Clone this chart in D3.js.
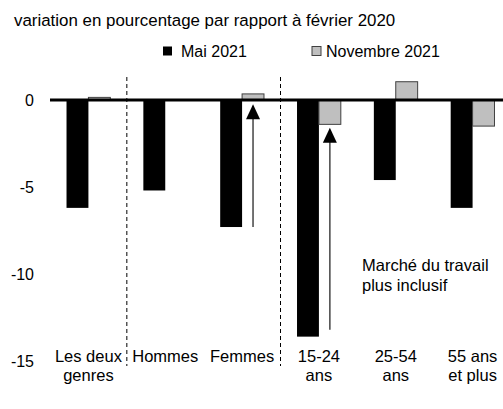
<!DOCTYPE html>
<html>
<head>
<meta charset="utf-8">
<script src="https://cdn.jsdelivr.net/npm/d3@7"></script>
<style>
  body { margin: 0; background: #fff; }
  svg { font-family: "Liberation Sans", Arial, sans-serif; }
</style>
</head>
<body>
<svg id="chart" width="503" height="409"></svg>
<script>
// données
const categories = ["Les deux|genres", "Hommes", "Femmes", "15-24|ans", "25-54|ans", "55 ans|et plus"];
const series = ["Mai 2021", "Novembre 2021"];
const mai2021 = [-6.2, -5.2, -7.3, -13.6, -4.6, -6.2];
const nov2021 = [0.15, 0, 0.35, -1.4, 1.05, -1.5];
const yTicks = [0, -5, -10, -15];
// flèches : catégorie, valeur de départ, valeur d'arrivée
const arrows = [
    { cat: "Femmes", from: -7.3, to: -0.25 },
    { cat: "15-24|ans", from: -13.2, to: -1.6 }
];
const separators = [1, 3]; // lignes pointillées avant ces catégories

const svg = d3.select("#chart");
const colors = ["#000000", "#bfbfbf"];

let x = d3.scaleBand()
    .domain(categories)
    .range([50, 511])
    .paddingInner(0.43)
    .paddingOuter(0.215);

let xSub = d3.scaleBand()
    .domain(series)
    .range([0, x.bandwidth()]);

let y = d3.scaleLinear()
    .domain([-15, 0])
    .range([361, 100]);

// titre
svg.append("text")
    .attr("x", 14)
    .attr("y", 26)
    .style("font-size", "16.9px")
    .text("variation en pourcentage par rapport à février 2020");

// légende
const legend = [
    { name: series[0], sx: 163, tx: 181 },
    { name: series[1], sx: 312, tx: 326 }
];
legend.forEach((d, i) => {
    svg.append("rect")
        .attr("x", d.sx).attr("y", 46.5)
        .attr("width", 9).attr("height", 9)
        .attr("fill", colors[i])
        .attr("stroke", i ? "#404040" : "none")
        .attr("stroke-width", 1);
    svg.append("text")
        .attr("x", d.tx).attr("y", 56.5)
        .style("font-size", "16px")
        .text(d.name);
});

// lignes pointillées
separators.forEach(i => {
    let sx = (x(categories[i - 1]) + x.bandwidth() + x(categories[i])) / 2;
    svg.append("line")
        .attr("x1", sx).attr("x2", sx)
        .attr("y1", 77).attr("y2", 366)
        .attr("stroke", "#000")
        .attr("stroke-width", 1)
        .attr("stroke-dasharray", "4,3");
});

// barres
const values = [mai2021, nov2021];
values.forEach((vals, s) => {
    svg.append("g").selectAll("rect")
        .data(categories)
        .enter()
        .append("rect")
        .attr("x", (d, i) => x(d) + xSub(series[s]))
        .attr("y", (d, i) => y(Math.max(0, vals[i])))
        .attr("width", xSub.bandwidth())
        .attr("height", (d, i) => Math.abs(y(vals[i]) - y(0)))
        .attr("fill", colors[s])
        .attr("stroke", s ? "#404040" : "none")
        .attr("stroke-width", 1);
});

// axe zéro
svg.append("line")
    .attr("x1", 50).attr("x2", 503)
    .attr("y1", y(0)).attr("y2", y(0))
    .attr("stroke", "#000")
    .attr("stroke-width", 3);

// axe Y
let gy = svg.append("g")
    .attr("transform", "translate(50,0)")
    .call(d3.axisLeft(y).tickValues(yTicks).tickSize(0).tickPadding(16).tickFormat(d => String(d)));
gy.select(".domain").remove();
gy.selectAll("text")
    .style("font-size", "16px")
    .style("font-family", "'Liberation Sans', Arial, sans-serif")
    .attr("fill", "#000");

// axe X (étiquettes sur deux lignes)
let gx = svg.append("g")
    .attr("transform", "translate(0,362)")
    .call(d3.axisBottom(x).tickSize(0).tickFormat(""));
gx.select(".domain").remove();
gx.selectAll(".tick").append("text")
    .attr("fill", "#000")
    .attr("text-anchor", "middle")
    .style("font-size", "16.5px")
    .style("font-family", "'Liberation Sans', Arial, sans-serif")
    .selectAll("tspan")
    .data(d => d.split("|"))
    .enter()
    .append("tspan")
    .attr("x", 0)
    .attr("y", (d, i) => i * 19)
    .text(d => d);

// flèches
arrows.forEach(a => {
    let ax = x(a.cat) + xSub(series[1]) + xSub.bandwidth() / 2;
    let yFrom = y(a.from), yTo = y(a.to);
    svg.append("line")
        .attr("x1", ax).attr("x2", ax)
        .attr("y1", yFrom).attr("y2", yTo + 14)
        .attr("stroke", "#444")
        .attr("stroke-width", 1.5);
    svg.append("path")
        .attr("d", `M${ax},${yTo} L${ax - 7},${yTo + 15} L${ax + 7},${yTo + 15} Z`)
        .attr("fill", "#000");
});

// annotation
svg.append("text")
    .attr("x", 362)
    .attr("y", 271)
    .style("font-size", "16.5px")
    .selectAll("tspan")
    .data(["Marché du travail", "plus inclusif"])
    .enter()
    .append("tspan")
    .attr("x", 362)
    .attr("dy", (d, i) => i ? 20 : 0)
    .text(d => d);
</script>
</body>
</html>
